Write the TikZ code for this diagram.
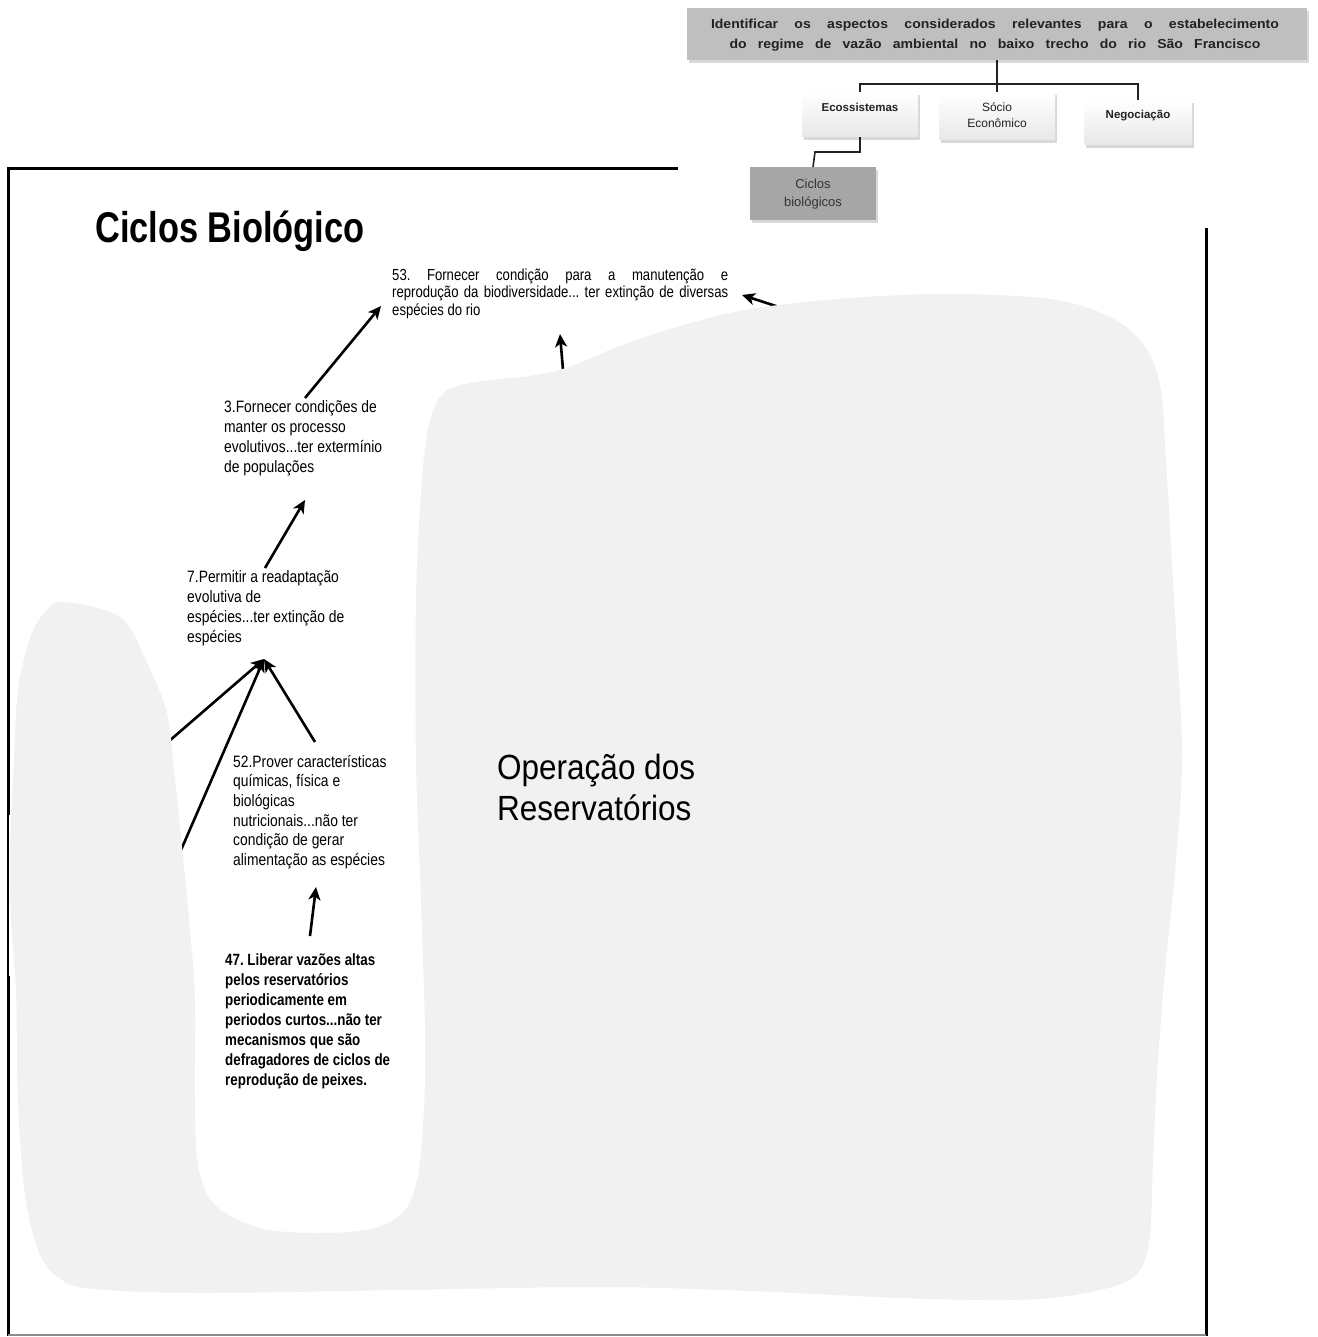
\documentclass[tikz,border=0pt]{standalone}
\usepackage{fontspec}
\setmainfont{Liberation Sans}
\newfontfamily\nf[FakeStretch=0.82]{Liberation Sans}
\newfontfamily\mf[FakeStretch=0.84]{Liberation Sans}
\newfontfamily\tf[FakeStretch=0.8]{Liberation Sans}
\newfontfamily\of[FakeStretch=0.9]{Liberation Sans}
\newfontfamily\wf[FakeStretch=1.08]{Liberation Sans}
\usetikzlibrary{arrows.meta,shadows}
\definecolor{blobgray}{HTML}{F1F1F1}
\definecolor{topgray}{HTML}{BFBFBF}
\definecolor{cicgray}{HTML}{A6A6A6}
\definecolor{inktext}{HTML}{222222}
\frenchspacing
\tikzset{
  arr/.style={line width=2.6pt,-{Stealth[length=13pt,width=12pt,inset=3.5pt]}},
  txt/.style={anchor=base west,inner sep=0pt,align=left,font=\mf\fontsize{16.5}{19.7}\selectfont},
  wbox/.style={draw=none,top color=white,bottom color=black!9,minimum width=116pt,minimum height=45pt,inner sep=0pt,
     drop shadow={shadow xshift=2pt,shadow yshift=-3pt,fill=black!30}},
  lbl/.style={inner sep=0pt,align=center,text=inktext,font=\fontsize{11.5}{15}\selectfont},
  conn/.style={draw=inktext,line width=1.6pt},
  frame/.style={line width=3pt,line cap=rect}
}
\begin{document}
\begin{tikzpicture}[x=1pt,y=-1pt]
\useasboundingbox (0,0) rectangle (1317,1337);
\fill[white] (0,0) rectangle (1317,1337);

% ---------- main frame ----------
\draw[frame] (676,169) -- (8,169) -- (8,813);
\draw[line width=1.3pt] (8,813) -- (8,977);
\draw[frame] (8,977) -- (8,1334);
\draw[frame] (1206,230) -- (1206,1334);
\draw[line width=1.6pt,black!45] (8,1335) -- (1206,1335);

% ---------- arrow end points ----------
\coordinate (a1s) at (305,398); \coordinate (a1e) at (381,306);
\coordinate (a2s) at (563,370); \coordinate (a2e) at (560,334);
\coordinate (a3s) at (785,309); \coordinate (a3e) at (742,295);
\coordinate (a4s) at (265,568); \coordinate (a4e) at (305,500);
\coordinate (hub) at (264,659);
\coordinate (a5s) at (168,742); \coordinate (a6s) at (181,850);
\coordinate (a7s) at (315,742);
\coordinate (a8s) at (310,936); \coordinate (a8e) at (316,887);

\draw[arr] (a1s) -- (a1e);
\draw[arr] (a2s) -- (a2e);
\draw[arr] (a3s) -- (a3e);
\draw[arr] (a4s) -- (a4e);
\draw[arr] (a5s) -- (hub);
\draw[arr] (a6s) -- (hub);
\draw[arr] (a7s) -- (hub);
\draw[arr] (a8s) -- (a8e);

% ---------- gray blob ----------
\fill[blobgray] plot[smooth cycle,tension=0.55] coordinates {
 (63,602) (120,617) (147,663) (167,713) (174,770) (182,847) (190,930) (195,1000)
 (195,1100) (198,1165) (215,1205) (260,1228) (320,1233) (375,1228) (405,1210)
 (418,1175) (424,1110) (425,1030) (421,900) (416,760) (416,600) (422,480) (430,420)
 (445,392) (475,382) (530,376) (566,368) (620,346) (680,326) (750,309) (850,298)
 (950,294) (1050,299) (1108,316) (1143,344) (1160,385) (1166,460) (1174,600)
 (1182,750) (1176,860) (1166,960) (1158,1060) (1153,1160) (1150,1235) (1140,1270)
 (1115,1286) (1060,1297) (1000,1300) (900,1298) (750,1291) (600,1287) (400,1290)
 (200,1293) (95,1289) (62,1280) (40,1255) (25,1195) (18,1100) (16,990) (11,920)
 (10,850) (14,760) (18,690) (30,638) (45,612)
};

% ---------- texts of the map (base anchor = last line) ----------
\node[anchor=base west,inner sep=0pt,font=\tf\bfseries\fontsize{43}{48}\selectfont] (title) at (95,243) {Ciclos Biológico};

\node[txt,font=\nf\fontsize{16}{17}\selectfont] (n53) at (392,315)
 {\makebox[336pt][s]{53. Fornecer condição para a manutenção e}\\
  \makebox[336pt][s]{reprodução da biodiversidade... ter extinção de diversas}\\
  espécies do rio};

\node[txt] (n3) at (224,472) {3.Fornecer condições de\\manter os processo\\evolutivos...ter extermínio\\de populações};

\node[txt] (n7) at (187,642) {7.Permitir a readaptação\\evolutiva de\\espécies...ter extinção de\\espécies};

\node[txt] (n52) at (233,865.5) {52.Prover características\\químicas, física e\\biológicas\\nutricionais...não ter\\condição de gerar\\alimentação as espécies};

\node[txt,font=\nf\bfseries\fontsize{16.3}{20}\selectfont] (n47) at (225,1085)
 {47. Liberar vazões altas\\pelos reservatórios\\periodicamente em\\periodos curtos...não ter\\mecanismos que são\\defragadores de ciclos de\\reprodução de peixes.};

\node[anchor=base west,inner sep=0pt,align=left,font=\of\fontsize{35}{41}\selectfont] (op) at (497,820) {Operação dos\\Reservatórios};

% ---------- inset: hierarchy ----------
\node[draw=none,fill=topgray,minimum width=620pt,minimum height=52pt,inner sep=0pt,
      drop shadow={shadow xshift=2pt,shadow yshift=-3pt,fill=black!30}] (top) at (997,34) {};
\node[lbl,font=\wf\bfseries\fontsize{13}{19.5}\selectfont] (topT) at (995,35)
 {\makebox[568pt][s]{Identificar os aspectos considerados relevantes para o estabelecimento}\\
  \makebox[531pt][s]{do regime de vazão ambiental no baixo trecho do rio São Francisco}};

\node[wbox] (eco) at (860,114.5) {};
\node[wbox,minimum height=48pt] (soc) at (997,116) {};
\node[wbox,minimum width=108pt] (neg) at (1138,122.5) {};
\node[draw=none,fill=cicgray,minimum width=126pt,minimum height=53pt,inner sep=0pt,
      drop shadow={shadow xshift=2pt,shadow yshift=-3pt,fill=black!30}] (cic) at (813,193.5) {};

\node[lbl,font=\bfseries\fontsize{11.5}{15}\selectfont] (ecoT) at (860,107) {Ecossistemas};
\node[lbl,font=\fontsize{12}{16}\selectfont] (socT) at (997,115) {Sócio\\Econômico};
\node[lbl,font=\bfseries\fontsize{11.5}{15}\selectfont] (negT) at (1138,116) {Negociação};
\node[lbl,text=black!80,font=\fontsize{13}{18}\selectfont] (cicT) at (813,194) {Ciclos\\biológicos};

\coordinate (bar) at (997,84);
\coordinate (ecm) at (815,152);
\draw[conn,line width=2.6pt] (top.south) -- (bar);
\draw[conn] (bar) -- (soc.north);
\draw[conn] (eco.north) |- (bar) -| (neg.north);
\draw[conn] (eco.south) |- (ecm) -- (cic.north);
\end{tikzpicture}
\end{document}
